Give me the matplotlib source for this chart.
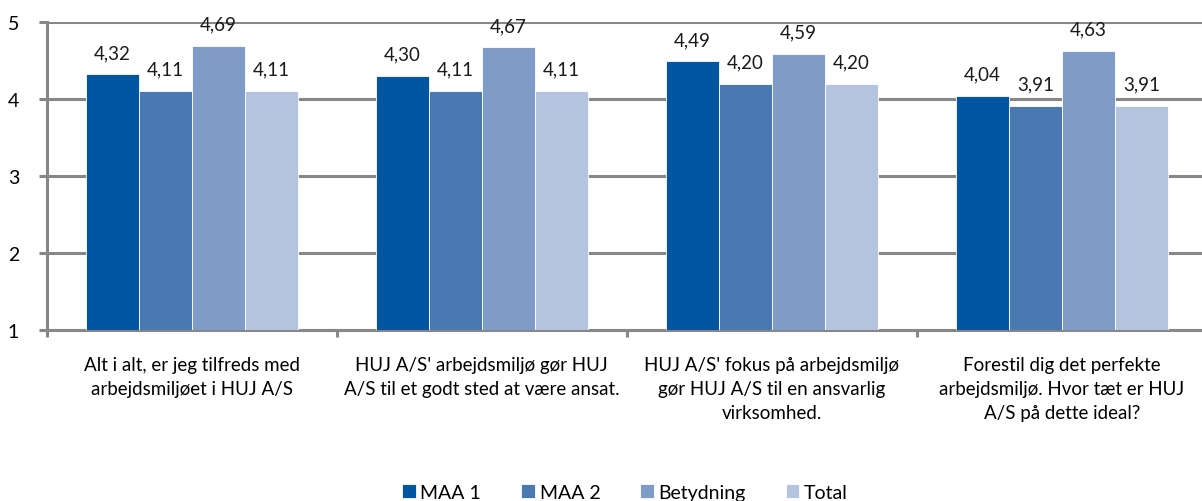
import numpy as np
import matplotlib.pyplot as plt

plt.rcParams['font.family'] = ['Lato', 'DejaVu Sans']

categories = [
    "Alt i alt, er jeg tilfreds med\narbejdsmiljøet i HUJ A/S",
    "HUJ A/S' arbejdsmiljø gør HUJ\nA/S til et godt sted at være ansat.",
    "HUJ A/S' fokus på arbejdsmiljø\ngør HUJ A/S til en ansvarlig\nvirksomhed.",
    "Forestil dig det perfekte\narbejdsmiljø. Hvor tæt er HUJ\nA/S på dette ideal?",
]
series = ["MAA 1", "MAA 2", "Betydning", "Total"]
maa1 = [4.32, 4.30, 4.49, 4.04]
maa2 = [4.11, 4.11, 4.20, 3.91]
betydning = [4.69, 4.67, 4.59, 4.63]
total = [4.11, 4.11, 4.20, 3.91]
values = [maa1, maa2, betydning, total]
colors = ["#0055A0", "#4A78B0", "#7F9CC8", "#B4C3DE"]

grey = "#878787"
fig = plt.figure(figsize=(12.02, 5.02), dpi=100)
ax = fig.add_axes([0.039, 0.341, 0.965, 0.613])

x = np.arange(len(categories))
w = 0.183
for i, (name, vals, c) in enumerate(zip(series, values, colors)):
    pos = x + (i - 1.5) * w
    vals = np.array(vals)
    ax.bar(pos, vals - 1, bottom=1, width=w, color=c, edgecolor="white",
           linewidth=0.6, label=name, zorder=3)
    for px, v in zip(pos, vals):
        ax.text(px, v + 0.17, f"{v:.2f}".replace(".", ","), ha="center",
                va="bottom", fontsize=13.5, color="#1a1a1a")

ax.set_xlim(-0.5, len(categories) - 0.5)
ax.set_ylim(1, 5)
ax.set_yticks([1, 2, 3, 4, 5])
ax.yaxis.grid(True, color=grey, linewidth=2.2, zorder=0)
ax.set_axisbelow(True)
for s in ["top", "right"]:
    ax.spines[s].set_visible(False)
for s in ["left", "bottom"]:
    ax.spines[s].set_color(grey)
    ax.spines[s].set_linewidth(2.2)

ax.set_xticks(np.arange(len(categories) + 1) - 0.5, minor=False)
ax.set_xticklabels([])
ax.tick_params(axis="x", which="major", length=5, width=2.2, color=grey)
ax.set_xticks(x, minor=True)
ax.set_xticklabels(categories, minor=True, fontsize=13.5, linespacing=1.5)
ax.tick_params(axis="x", which="minor", length=0, pad=19)
ax.tick_params(axis="y", length=6, width=2.2, color=grey, labelsize=14, pad=14)

fig.legend(loc="lower center", bbox_to_anchor=(0.52, -0.035), ncol=4, frameon=False,
           fontsize=14, handlelength=0.7, handleheight=0.7, handletextpad=0.25,
           columnspacing=2.05)

fig.savefig("out.png", dpi=100)
